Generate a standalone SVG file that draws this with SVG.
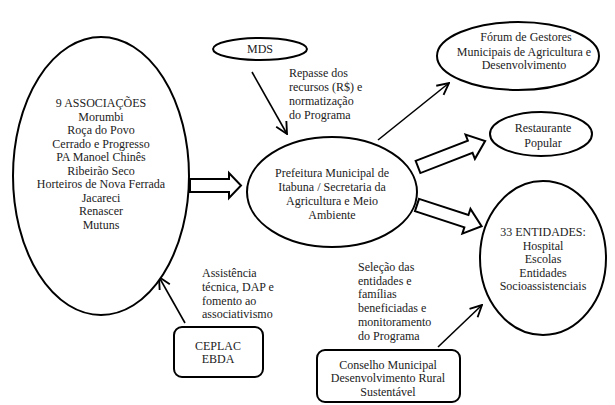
<svg xmlns="http://www.w3.org/2000/svg" width="615" height="405" viewBox="0 0 615 405">
<style>
.shape{fill:#fff;stroke:#000;stroke-width:2}
.t{font-family:'Liberation Serif','DejaVu Serif','Times New Roman',serif;font-size:12px;fill:#222;text-anchor:middle}
.l{font-family:'Liberation Serif','DejaVu Serif','Times New Roman',serif;font-size:12px;fill:#222}
.conn{stroke:#000;stroke-width:1.6;fill:none}
.hollow{fill:#fff;stroke:#000;stroke-width:2;stroke-linejoin:miter}
</style>
<defs>
<marker id="arr" markerUnits="userSpaceOnUse" markerWidth="14" markerHeight="14" viewBox="0 0 12 12" refX="11" refY="6" orient="auto">
<path d="M1,1 L11,6 L1,11" fill="none" stroke="#000" stroke-width="1.6"/>
</marker>
</defs>
<rect width="615" height="405" fill="#fff"/>

<g id="connectors">
<line class="conn" x1="252" y1="72" x2="287" y2="134" marker-end="url(#arr)"/>
<line class="conn" x1="378" y1="140" x2="449" y2="83" marker-end="url(#arr)"/>
<line class="conn" x1="185" y1="323" x2="159" y2="277" marker-end="url(#arr)"/>
<line class="conn" x1="438" y1="347" x2="482" y2="305" marker-end="url(#arr)"/>
<polygon class="hollow" points="190,179 229,179 229,173 241,185.5 229,198 229,192 190,192"/>
<polygon class="hollow" transform="translate(418,167) rotate(-21.2)" points="0,-6.5 56,-6.5 56,-13 72,0 56,13 56,6.5 0,6.5"/>
<polygon class="hollow" transform="translate(417,205) rotate(18.2)" points="0,-6.5 52,-6.5 52,-13 68,0 52,13 52,6.5 0,6.5"/>
<text class="l"><tspan x="289" y="77">Repasse dos</tspan><tspan x="289" y="91">recursos  (R$) e</tspan><tspan x="289" y="105">normatização</tspan><tspan x="289" y="119">do Programa</tspan></text>
<text class="l"><tspan x="202" y="277">Assistência</tspan><tspan x="202" y="291">técnica, DAP e</tspan><tspan x="202" y="305">fomento ao</tspan><tspan x="202" y="318">associativismo</tspan></text>
<text class="l"><tspan x="358" y="271">Seleção das</tspan><tspan x="358" y="285">entidades e</tspan><tspan x="358" y="298">famílias</tspan><tspan x="358" y="312">beneficiadas e</tspan><tspan x="358" y="326">monitoramento</tspan><tspan x="358" y="340">do Programa</tspan></text>
</g>

<g id="associacoes">
<ellipse class="shape" cx="101" cy="176" rx="88" ry="139"/>
<text class="t"><tspan x="101" y="107">9 ASSOCIAÇÕES</tspan><tspan x="101" y="120.5">Morumbi</tspan><tspan x="101" y="134">Roça do Povo</tspan><tspan x="101" y="147.5">Cerrado e Progresso</tspan><tspan x="101" y="161">PA Manoel  Chinês</tspan><tspan x="101" y="174.5">Ribeirão  Seco</tspan><tspan x="101" y="188">Horteiros de Nova Ferrada</tspan><tspan x="101" y="201.5">Jacareci</tspan><tspan x="101" y="215">Renascer</tspan><tspan x="101" y="228.5">Mutuns</tspan></text>
</g>

<g id="mds">
<ellipse class="shape" cx="260" cy="49" rx="47" ry="11"/>
<text class="t" x="260" y="53">MDS</text>
</g>

<g id="prefeitura">
<ellipse class="shape" cx="332" cy="192" rx="85" ry="55"/>
<text class="t"><tspan x="332" y="177">Prefeitura  Municipal  de</tspan><tspan x="332" y="191">Itabuna / Secretaria da</tspan><tspan x="332" y="205">Agricultura  e Meio</tspan><tspan x="332" y="219">Ambiente</tspan></text>
</g>

<g id="forum">
<ellipse class="shape" cx="518" cy="56" rx="81" ry="34"/>
<text class="t"><tspan x="526" y="41">Fórum de Gestores</tspan><tspan x="524" y="56">Municipais  de Agricultura  e</tspan><tspan x="524" y="69">Desenvolvimento</tspan></text>
</g>

<g id="restaurante">
<ellipse class="shape" cx="541" cy="134" rx="51" ry="22"/>
<text class="t"><tspan x="543" y="132">Restaurante</tspan><tspan x="543" y="147">Popular</tspan></text>
</g>

<g id="entidades">
<ellipse class="shape" cx="543" cy="258" rx="63" ry="77"/>
<text class="t"><tspan x="543" y="236">33 ENTIDADES:</tspan><tspan x="543" y="249.5">Hospital</tspan><tspan x="543" y="263">Escolas</tspan><tspan x="543" y="276.5">Entidades</tspan><tspan x="543" y="290">Socioassistenciais</tspan></text>
</g>

<g id="ceplac">
<rect class="shape" x="174" y="327" width="89" height="50" rx="8"/>
<text class="t"><tspan x="218" y="350">CEPLAC</tspan><tspan x="218" y="363">EBDA</tspan></text>
</g>

<g id="conselho">
<rect class="shape" x="317" y="350" width="143" height="52" rx="8"/>
<text class="t"><tspan x="388" y="369">Conselho Municipal</tspan><tspan x="388" y="382">Desenvolvimento  Rural</tspan><tspan x="388" y="396">Sustentável</tspan></text>
</g>
</svg>
